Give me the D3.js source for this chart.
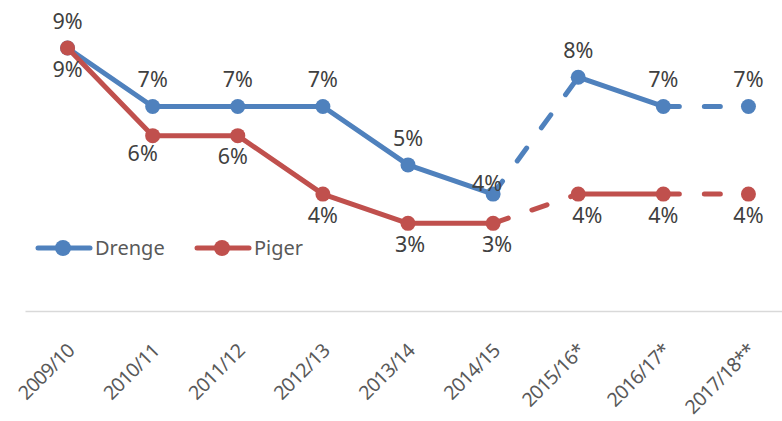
<!DOCTYPE html>
<html>
<head>
<meta charset="utf-8">
<script src="https://cdn.jsdelivr.net/npm/d3@7"></script>
<style>
    html, body { margin: 0; padding: 0; background: #fff; }
    svg { display: block; font-family: 'Noto Sans', sans-serif; }
</style>
</head>
<body>
<div class="chart"></div>
<script>
/* global d3 */
(function () {
    'use strict';

    var categories = ['2009/10', '2010/11', '2011/12', '2012/13', '2013/14',
        '2014/15', '2015/16*', '2016/17*', '2017/18**'];
    var drenge = [9, 7, 7, 7, 5, 4, 8, 7, 7];
    var piger = [9, 6, 6, 4, 3, 3, 4, 4, 4];
    // segment i joins point i and i+1
    var dashedSegments = [false, false, false, false, false, true, false, true];

    var width = 782, height = 421;
    var blue = '#4f81bd', red = '#c0504d';

    var svg = d3.select('.chart')
        .append('svg')
            .attr('width', width)
            .attr('height', height);

    var x = d3.scaleBand()
        .domain(categories)
        .range([25, 791]);

    var y = d3.scaleLinear()
        .domain([0, 9])
        .range([311, 48]);

    function cx(i) {
        return x(categories[i]) + x.bandwidth() / 2;
    }

    // x axis
    var axis = svg.append('g')
        .attr('transform', 'translate(0,' + y(0) + ')')
        .call(d3.axisBottom(x).tickSize(0).tickSizeOuter(0));

    axis.select('.domain')
        .attr('stroke', '#d9d9d9')
        .attr('stroke-width', 1.5);

    axis.selectAll('.tick text')
        .attr('fill', '#595959')
        .attr('font-size', '19.5px')
        .attr('letter-spacing', '-0.7px')
        .attr('font-family', "'Noto Sans', sans-serif")
        .attr('text-anchor', 'end')
        .attr('y', 0)
        .attr('dy', 0)
        .attr('transform', 'translate(8, 41) rotate(-45)');

    var series = [
        { name: 'Drenge', values: drenge, color: blue, above: true,
            nudge: { 5: [-6, 16] } },
        { name: 'Piger', values: piger, color: red, above: false,
            nudge: { 1: [-10, -3], 2: [-5, 0], 4: [2, 0], 5: [4, 0], 6: [9, 0] } }
    ];

    var line = d3.line()
        .x(function (d) { return cx(d.i); })
        .y(function (d) { return y(d.v); });

    series.forEach(function (s) {
        var g = svg.append('g');

        var segs = dashedSegments.map(function (dashed, i) {
            return {
                dashed: dashed,
                pts: [{ i: i, v: s.values[i] }, { i: i + 1, v: s.values[i + 1] }]
            };
        });

        g.selectAll('path.seg')
            .data(segs)
            .enter().append('path')
                .attr('class', 'seg')
                .attr('d', function (d) { return line(d.pts); })
                .attr('fill', 'none')
                .attr('stroke', s.color)
                .attr('stroke-width', 5)
                .attr('stroke-linecap', 'round')
                .attr('stroke-dasharray', function (d) {
                    return d.dashed ? '16,25' : null;
                });

        g.selectAll('circle')
            .data(s.values)
            .enter().append('circle')
                .attr('cx', function (d, i) { return cx(i); })
                .attr('cy', function (d) { return y(d); })
                .attr('r', 7.5)
                .attr('fill', s.color);
    });

    // data labels on top of everything
    series.forEach(function (s) {
        svg.append('g').selectAll('text')
            .data(s.values)
            .enter().append('text')
                .attr('x', function (d, i) {
                    return cx(i) + (s.nudge[i] ? s.nudge[i][0] : 0);
                })
                .attr('y', function (d, i) {
                    var off = s.above ? -27 : 21;
                    return y(d) + off + (s.nudge[i] ? s.nudge[i][1] : 0);
                })
                .attr('dy', '0.36em')
                .attr('text-anchor', 'middle')
                .attr('font-size', '21.5px')
                .attr('fill', '#404040')
                .text(function (d) { return d + '%'; });
    });

    // legend
    var legend = svg.append('g')
        .attr('transform', 'translate(0, 248)');

    var items = legend.selectAll('g')
        .data(series)
        .enter().append('g')
            .attr('transform', function (d, i) {
                return 'translate(' + (38 + i * 159) + ',0)';
            });

    items.append('line')
        .attr('x1', 0)
        .attr('x2', 52)
        .attr('stroke', function (d) { return d.color; })
        .attr('stroke-width', 5)
        .attr('stroke-linecap', 'round');

    items.append('circle')
        .attr('cx', 25)
        .attr('r', 8)
        .attr('fill', function (d) { return d.color; });

    items.append('text')
        .attr('x', 57)
        .attr('dy', '0.36em')
        .attr('font-size', '20px')
        .attr('fill', '#595959')
        .text(function (d) { return d.name; });
})();
</script>
</body>
</html>
